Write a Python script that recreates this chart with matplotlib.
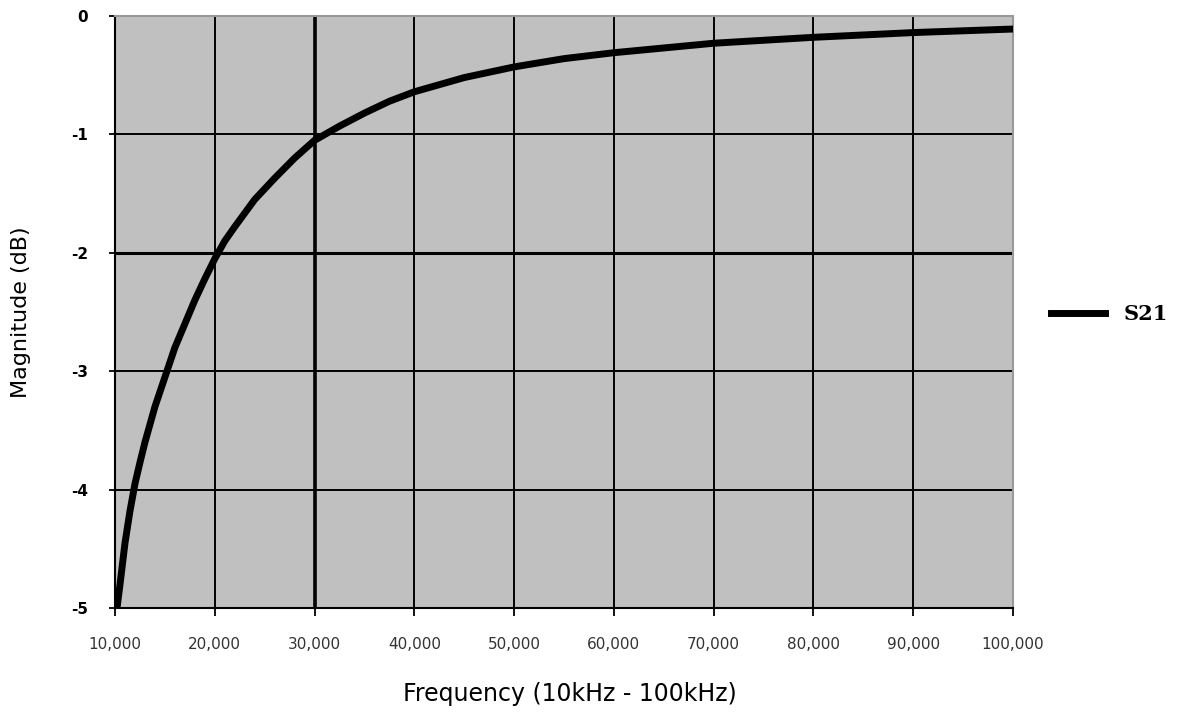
#import necessary packages
import numpy as np
import matplotlib.pyplot as plt
from matplotlib.ticker import FuncFormatter

plt.rcParams['axes.unicode_minus'] = False

#values
freq = [10200, 10500, 11000, 11500, 12000, 12500, 13000, 14000, 15000, 16000,
        17000, 18000, 19000, 20000, 21000, 22000, 24000, 26000, 28000, 30000,
        32500, 35000, 37500, 40000, 45000, 50000, 55000, 60000, 65000, 70000,
        80000, 90000, 100000]
mag = [-5.0, -4.8, -4.45, -4.18, -3.95, -3.77, -3.6, -3.3, -3.05, -2.8,
       -2.6, -2.4, -2.22, -2.05, -1.9, -1.78, -1.55, -1.37, -1.2, -1.05,
       -0.93, -0.82, -0.72, -0.64, -0.52, -0.43, -0.36, -0.31, -0.27, -0.23,
       -0.18, -0.14, -0.11]
xticks = [10000, 20000, 30000, 40000, 50000, 60000, 70000, 80000, 90000, 100000]
yticks = [0, -1, -2, -3, -4, -5]
series_name = 'S21'

fig = plt.figure(figsize=(11.81, 7.21), dpi=100)
ax = fig.add_axes([0.0974, 0.1567, 0.7603, 0.8211])
ax.set_facecolor('#c0c0c0')

#grid lines, the 30kHz and -2dB ones are heavier
for x in xticks[1:-1]:
    ax.axvline(x, color='black', lw=2.6 if x == 30000 else 1.4, zorder=1)
for y in yticks[1:-1]:
    ax.axhline(y, color='black', lw=2.2 if y == -2 else 1.4, zorder=1)

ax.plot(freq, mag, color='black', lw=5, solid_joinstyle='round', zorder=3, label=series_name)

ax.set_xlim(10000, 100000)
ax.set_ylim(-5, 0)
ax.set_xticks(xticks)
ax.set_yticks(yticks)
ax.xaxis.set_major_formatter(FuncFormatter(lambda v, p: '{:,}'.format(int(v))))
ax.tick_params(axis='x', direction='out', length=6, width=1.3, pad=15,
               labelsize=11, labelcolor='#333333')
ax.tick_params(axis='y', direction='out', length=4.5, width=1.3, pad=15, labelsize=11)
for lab in ax.get_yticklabels():
    lab.set_fontweight('bold')

for side in ['left', 'bottom']:
    ax.spines[side].set_color('black')
    ax.spines[side].set_linewidth(1.5)
for side in ['top', 'right']:
    ax.spines[side].set_color('#999999')
    ax.spines[side].set_linewidth(1.5)

ax.set_xlabel('Frequency (10kHz - 100kHz)', fontsize=17)
ax.xaxis.set_label_coords(0.507, -0.125)
ax.set_ylabel('Magnitude (dB)', fontsize=16)
ax.yaxis.set_label_coords(-0.094, 0.5)

leg = ax.legend(loc='center left', bbox_to_anchor=(0.874, 0.564), bbox_transform=fig.transFigure,
                frameon=False, handlelength=2.6, handletextpad=0.9,
                prop={'family': 'DejaVu Serif', 'weight': 'bold', 'size': 15})

fig.savefig('out.png', dpi=100)
